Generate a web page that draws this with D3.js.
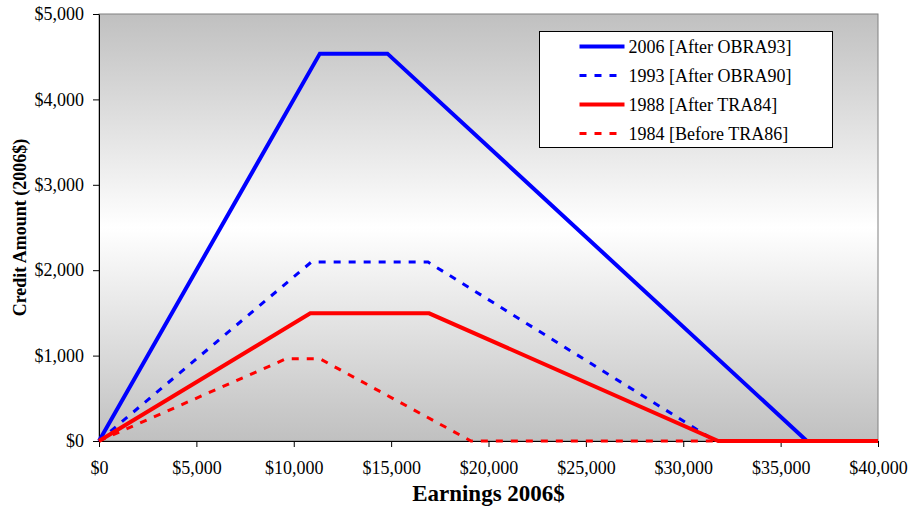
<!DOCTYPE html>
<html>
<head>
<meta charset="utf-8">
<script src="https://cdn.jsdelivr.net/npm/d3@7"></script>
<style>
  body { margin: 0; background: #fff; }
  svg text { font-family: 'Liberation Serif', 'Times New Roman', Times, serif !important; }
</style>
</head>
<body>
<svg width="911" height="508"></svg>
<script>
// Series: earnings breakpoints (2006$) and credit amounts
var seriesNames = ['2006 [After OBRA93]', '1993 [After OBRA90]', '1988 [After TRA84]', '1984 [Before TRA86]'];
var earnings2006 = [0, 11340, 14810, 36348, 40000];
var credit2006   = [0, 4536, 4536, 0, 0];
var earnings1993 = [0, 10900, 16900, 31650, 40000];
var credit1993   = [0, 2095, 2095, 0, 0];
var earnings1988 = [0, 10850, 16950, 31800, 40000];
var credit1988   = [0, 1495, 1495, 0, 0];
var earnings1984 = [0, 9600, 11350, 19100, 40000];
var credit1984   = [0, 962, 962, 0, 0];
var xTicks = [0, 5000, 10000, 15000, 20000, 25000, 30000, 35000, 40000];
var yTicks = [0, 1000, 2000, 3000, 4000, 5000];

var svg = d3.select('svg');
var padding = {t: 14, r: 33, b: 67, l: 99};
var chartWidth = 911 - padding.l - padding.r;
var chartHeight = 508 - padding.t - padding.b;

var defs = svg.append('defs');
var grad = defs.append('linearGradient')
    .attr('id', 'bg').attr('x1', 0).attr('y1', 0).attr('x2', 0).attr('y2', 1);
grad.append('stop').attr('offset', '0%').attr('stop-color', '#c0c0c0');
grad.append('stop').attr('offset', '50%').attr('stop-color', '#ffffff');
grad.append('stop').attr('offset', '100%').attr('stop-color', '#c0c0c0');

var chartG = svg.append('g')
    .attr('transform', 'translate(' + [padding.l, padding.t] + ')');

var xScale = d3.scaleLinear().domain([0, 40000]).range([0, chartWidth]);
var yScale = d3.scaleLinear().domain([0, 5000]).range([chartHeight, 0]);
var fmt = function(d) { return '$' + d3.format(',')(d); };

chartG.append('rect')
    .attr('width', chartWidth).attr('height', chartHeight)
    .attr('fill', 'url(#bg)')
    .attr('stroke', '#808080').attr('stroke-width', 1);

var xAxisG = chartG.append('g')
    .attr('transform', 'translate(' + [0, chartHeight] + ')')
    .call(d3.axisBottom(xScale).tickValues(xTicks).tickFormat(fmt).tickSizeInner(6).tickSizeOuter(0).tickPadding(14));
var yAxisG = chartG.append('g')
    .call(d3.axisLeft(yScale).tickValues(yTicks).tickFormat(fmt).tickSizeInner(6).tickSizeOuter(0).tickPadding(9));

[xAxisG, yAxisG].forEach(function(g) {
    g.attr('font-family', null).attr('font-size', null);
    g.selectAll('text').attr('fill', '#000').style('font-size', '18px');
    g.selectAll('line, path').attr('stroke', '#000');
});

var series = [
    {name: seriesNames[0], x: earnings2006, y: credit2006, color: '#0000ff', dash: null},
    {name: seriesNames[1], x: earnings1993, y: credit1993, color: '#0000ff', dash: '7,8'},
    {name: seriesNames[2], x: earnings1988, y: credit1988, color: '#ff0000', dash: null},
    {name: seriesNames[3], x: earnings1984, y: credit1984, color: '#ff0000', dash: '7,8'}
];

var line = d3.line()
    .x(function(d) { return xScale(d[0]); })
    .y(function(d) { return yScale(d[1]); });

chartG.selectAll('.series')
    .data(series)
    .enter()
    .append('path')
    .attr('class', 'series')
    .attr('fill', 'none')
    .attr('stroke', function(d) { return d.color; })
    .attr('stroke-width', function(d) { return d.dash ? 3 : 4; })
    .attr('stroke-dasharray', function(d) { return d.dash; })
    .attr('stroke-linejoin', 'miter')
    .attr('d', function(d) { return line(d3.zip(d.x, d.y)); });

// Legend
var legendG = svg.append('g').attr('transform', 'translate(539.5,31.5)');
legendG.append('rect')
    .attr('width', 293).attr('height', 116)
    .attr('fill', '#fff').attr('stroke', '#000').attr('stroke-width', 1);
var items = legendG.selectAll('.item')
    .data(series)
    .enter()
    .append('g')
    .attr('class', 'item')
    .attr('transform', function(d, i) { return 'translate(0,' + (15 + i * 29) + ')'; });
items.append('line')
    .attr('x1', 40).attr('x2', 85)
    .attr('stroke', function(d) { return d.color; })
    .attr('stroke-width', function(d) { return d.dash ? 3 : 4; })
    .attr('stroke-dasharray', function(d) { return d.dash; });
items.append('text')
    .attr('x', 89).attr('y', 6)
    .style('font-size', '18px')
    .text(function(d) { return d.name; });

// Axis titles
svg.append('text')
    .attr('x', padding.l + chartWidth / 2).attr('y', 501)
    .attr('text-anchor', 'middle')
    .style('font-size', '23px').attr('font-weight', 'bold')
    .text('Earnings 2006$');
svg.append('text')
    .attr('transform', 'translate(26,' + (padding.t + chartHeight / 2) + ') rotate(-90)')
    .attr('text-anchor', 'middle')
    .style('font-size', '18px').attr('font-weight', 'bold')
    .text('Credit Amount (2006$)');
</script>
</body>
</html>
